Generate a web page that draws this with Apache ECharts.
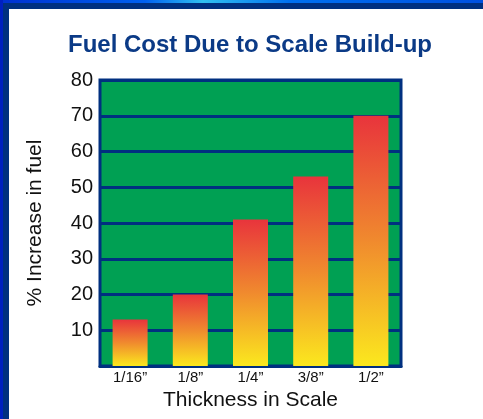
<!DOCTYPE html>
<html>
<head>
<meta charset="utf-8">
<script src="https://cdn.jsdelivr.net/npm/echarts@6/dist/echarts.min.js"></script>
<style>
html,body{margin:0;padding:0;background:#fff;}
#chart{width:483px;height:419px;}
</style>
</head>
<body>
<div id="chart"></div>
<script>
const titleText = 'Fuel Cost Due to Scale Build-up';
const categories = ['1/16\u201d', '1/8\u201d', '1/4\u201d', '3/8\u201d', '1/2\u201d'];
const fuelIncrease = [13, 20, 41, 53, 70];
const yTicks = [0, 10, 20, 30, 40, 50, 60, 70, 80];
const xName = 'Thickness in Scale';
const yName = '% Increase in fuel';

const navy = '#003080';
const font = '"Liberation Sans", Arial, sans-serif';

const chart = echarts.init(document.getElementById('chart'), null, {renderer: 'canvas'});
chart.setOption({
  animation: false,
  backgroundColor: '#ffffff',
  title: {
    text: titleText,
    left: 63,
    top: 28,
    textStyle: {fontFamily: font, fontSize: 24, fontWeight: 'bold', color: '#0b3a86'}
  },
  graphic: [
    {type: 'rect', shape: {x: 0, y: 0, width: 483, height: 3}, style: {fill: new echarts.graphic.LinearGradient(0, 0, 1, 0, [
      {offset: 0, color: '#0030d0'}, {offset: 0.3, color: '#0060f0'}, {offset: 0.42, color: '#30c0f0'}, {offset: 0.6, color: '#0070f0'}, {offset: 1, color: '#0050e0'}])}, silent: true},
    {type: 'rect', shape: {x: 0, y: 3, width: 483, height: 6}, style: {fill: navy}, silent: true},
    {type: 'rect', shape: {x: 0, y: 0, width: 3, height: 419}, style: {fill: '#0020c0'}, silent: true},
    {type: 'rect', shape: {x: 3, y: 3, width: 6, height: 416}, style: {fill: navy}, silent: true}
  ],
  grid: {
    left: 100, right: 82, top: 80, bottom: 53,
    show: true,
    backgroundColor: '#00a053',
    borderColor: navy,
    borderWidth: 3
  },
  xAxis: {
    type: 'category',
    data: categories,
    name: xName,
    nameLocation: 'middle',
    nameGap: 21,
    nameTextStyle: {fontFamily: font, fontSize: 21, color: '#111'},
    axisLine: {show: true, lineStyle: {color: navy, width: 3}},
    axisTick: {show: false},
    axisLabel: {fontFamily: font, fontSize: 15, color: '#111', margin: 4}
  },
  yAxis: {
    type: 'value',
    min: yTicks[0],
    max: yTicks[yTicks.length - 1],
    interval: 10,
    name: yName,
    nameLocation: 'middle',
    nameGap: 54,
    nameTextStyle: {fontFamily: font, fontSize: 21, color: '#111'},
    axisLine: {show: false},
    axisTick: {show: false},
    axisLabel: {fontFamily: font, fontSize: 20, color: '#111', margin: 7,
      formatter: v => (v === 0 ? '' : String(v))},
    splitLine: {show: true, lineStyle: {color: navy, width: 3}}
  },
  series: [{
    type: 'bar',
    data: fuelIncrease,
    barWidth: 35,
    itemStyle: {
      color: new echarts.graphic.LinearGradient(0, 0, 0, 1, [
        {offset: 0, color: '#e8343c'},
        {offset: 0.5, color: '#f08a2e'},
        {offset: 1, color: '#fbe81e'}
      ])
    }
  }]
});
</script>
</body>
</html>
